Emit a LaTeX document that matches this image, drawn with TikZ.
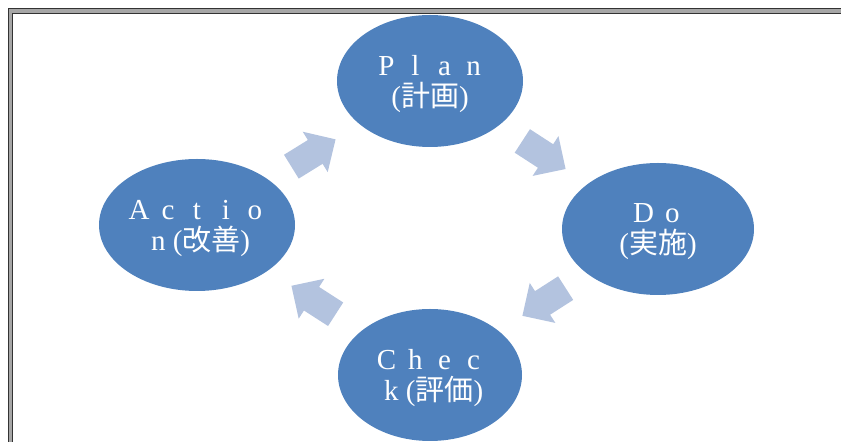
\documentclass[tikz,border=0pt]{standalone}
\usepackage{fontspec}
\setmainfont{Liberation Serif}
\newfontfamily\jpfont{Noto Sans CJK JP}
\usetikzlibrary{shapes.geometric, arrows.meta, calc}
\definecolor{phaseblue}{HTML}{4F81BD}
\definecolor{flowblue}{HTML}{B3C3DF}
\newcommand\fw[1]{\makebox[14.5pt]{#1}}

\begin{document}
\begin{tikzpicture}[
        x=0.5pt, y=-0.5pt,
        phase/.style={ellipse, fill=phaseblue, text=white, minimum width=#1, minimum height=66pt,
            inner sep=-12pt, text depth=0pt, align=center, font=\fontsize{14.5}{15.5}\selectfont},
        flow/.style={draw=flowblue, line width=14pt, -{Triangle[width=23pt, length=12pt]}},
        frame/.style={draw=black!80, line width=0.5pt, double=black!35, double distance=1.6pt}
    ]
        \useasboundingbox (0,0) rectangle (841,442);
        \clip (0,0) rectangle (841,442);

        % Frame
        \draw[frame] (10.5,11) rectangle (900,520);

        % Phases
        \node[phase=93pt] (plan) at (430,81) {\fw{P}\fw{l}\fw{a}\fw{n}\\({\jpfont 計画})};
        \node[phase=96pt] (do) at (658,229) {\fw{D}\fw{o}\\({\jpfont 実施})};
        \node[phase=92pt] (check) at (430,375) {\fw{C}\fw{h}\fw{e}\fw{c}\\\fw{k}({\jpfont 評価})};
        \node[phase=98pt] (action) at (197,225) {\fw{A}\fw{c}\fw{t}\fw{i}\fw{o}\\\fw{n}({\jpfont 改善})};

        % Cycle arrows
        \draw[flow] ($(action)!0.405!(plan)$) -- ($(action)!0.595!(plan)$);
        \draw[flow] ($(plan)!0.405!(do)$) -- ($(plan)!0.595!(do)$);
        \draw[flow] ($(do)!0.405!(check)$) -- ($(do)!0.595!(check)$);
        \draw[flow] ($(check)!0.405!(action)$) -- ($(check)!0.595!(action)$);

    \end{tikzpicture}
\end{document}
